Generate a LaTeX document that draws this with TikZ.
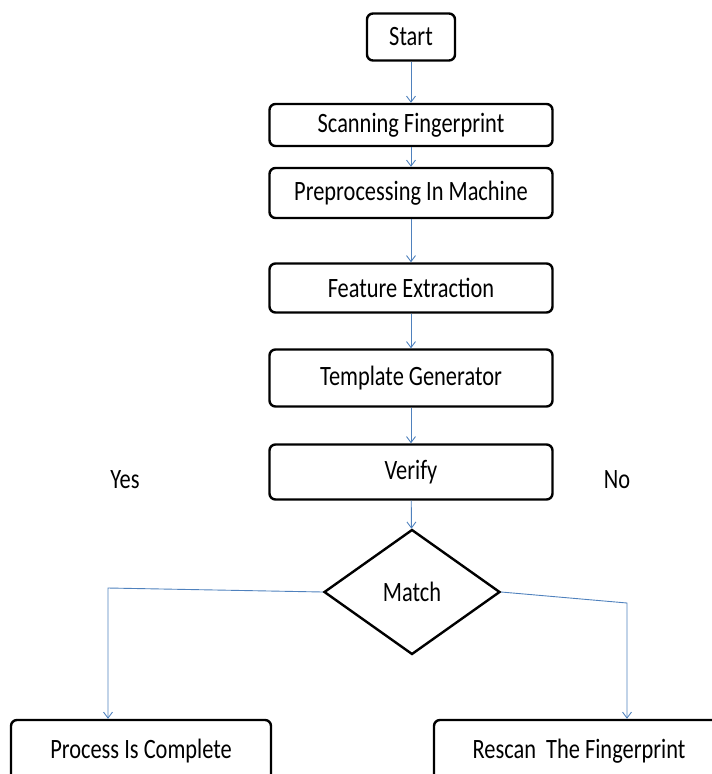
\documentclass[tikz,border=0pt]{standalone}
\usepackage{fontspec}
\usepackage{graphicx}
\setmainfont{Carlito}
\usetikzlibrary{shapes.geometric,arrows.meta}
\definecolor{linkblue}{RGB}{79,129,189}
\newcommand{\sqz}[1]{\scalebox{0.8}[1]{#1}}
\tikzset{
  label text/.style={font=\fontsize{28}{30}\selectfont},
  stepbox/.style={draw, line width=2.4pt, rounded corners=6pt, inner sep=0pt, label text},
  flow/.style={draw=linkblue, line width=0.9pt, -{Straight Barb[length=6pt,width=9pt]}}
}

\begin{document}
\begin{tikzpicture}[x=1pt,y=-1pt]
				\useasboundingbox (0,0) rectangle (712,774);
				\node[stepbox, minimum width=88pt, minimum height=47pt] (start) at (411, 37) {\sqz{Start}};
				\node[stepbox, minimum width=283pt, minimum height=42pt] (scan) at (411, 125) {\sqz{Scanning Fingerprint}};
				\node[stepbox, minimum width=283pt, minimum height=50pt] (prep) at (411, 193) {\sqz{Preprocessing In Machine}};
				\node[stepbox, minimum width=283pt, minimum height=49pt] (feat) at (411, 288) {\sqz{Feature Extraction}};
				\node[stepbox, minimum width=283pt, minimum height=57pt] (templ) at (411, 378) {\sqz{Template Generator}};
				\node[stepbox, minimum width=283pt, minimum height=55pt] (verify) at (411, 472) {\sqz{Verify}};
				\node[stepbox, diamond, rounded corners=0pt, minimum width=176pt, minimum height=125pt] (match) at (412, 592) {\sqz{Match}};
				\node[stepbox, minimum width=260pt, minimum height=62pt] (done) at (141, 751) {\sqz{Process Is Complete}};
				\node[stepbox, minimum width=290pt, minimum height=62pt] (rescan) at (579, 751) {\sqz{Rescan\ \ The Fingerprint}};
				\node[label text] (yes) at (125, 480) {\sqz{Yes}};
				\node[label text] (no) at (617, 480) {\sqz{No}};
				\coordinate (yesbend) at (108, 588);
				\coordinate (nobend) at (627, 603);
				\draw[flow] (start) -- (scan);
				\draw[flow] (scan) -- (prep);
				\draw[flow] (prep) -- (feat);
				\draw[flow] (feat) -- (templ);
				\draw[flow] (templ) -- (verify);
				\draw[flow] (verify) -- (match);
				\draw[flow] (match.west) -- (yesbend) -- (yesbend |- done.north);
				\draw[flow] (match.east) -- (nobend) -- (nobend |- rescan.north);
			\end{tikzpicture}
\end{document}
